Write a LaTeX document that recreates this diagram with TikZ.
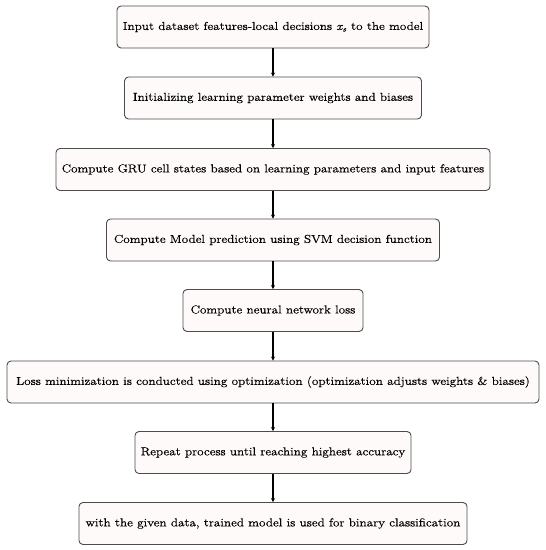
\documentclass[tikz,border=0pt]{standalone}
\usepackage{fontspec}
\setmainfont[FakeStretch=1.15,FakeBold=0.5]{Latin Modern Roman}
\usetikzlibrary{arrows.meta}
\begin{document}
\begin{tikzpicture}[x=1bp,y=-1bp,
  stepbox/.style={draw=black!70, line width=0.9bp, rounded corners=4bp, fill=red!2,
    inner sep=0pt, minimum height=42bp, align=center, font=\fontsize{11.5}{13}\selectfont},
  flow/.style={line width=1.8bp, -{Stealth[length=4bp,width=4bp]}}]
\useasboundingbox (0,0) rectangle (546,550);
\node[stepbox, minimum width=312bp] (n1) at (273,27) {Input dataset features-local decisions {\itshape x}\textsubscript{\itshape s} to the model};
\node[stepbox, minimum width=297bp] (n2) at (273,98) {Initializing learning parameter weights and biases};
\node[stepbox, minimum width=434bp] (n3) at (273,169.5) {Compute GRU cell states based on learning parameters and input features};
\node[stepbox, minimum width=333bp] (n4) at (273,240) {Compute Model prediction using SVM decision function};
\node[stepbox, minimum width=180bp] (n5) at (273,310.5) {Compute neural network loss};
\node[stepbox, minimum width=532bp] (n6) at (273,382) {Loss minimization is conducted using optimization (optimization adjusts weights \& biases)};
\node[stepbox, minimum width=276bp] (n7) at (273,452.5) {Repeat process until reaching highest accuracy};
\node[stepbox, minimum width=388bp] (n8) at (273,523.5) {with the given data, trained model is used for binary classification};
\foreach \a/\b in {n1/n2,n2/n3,n3/n4,n4/n5,n5/n6,n6/n7,n7/n8}
  \draw[flow] (\a) -- (\b);
\end{tikzpicture}
\end{document}
